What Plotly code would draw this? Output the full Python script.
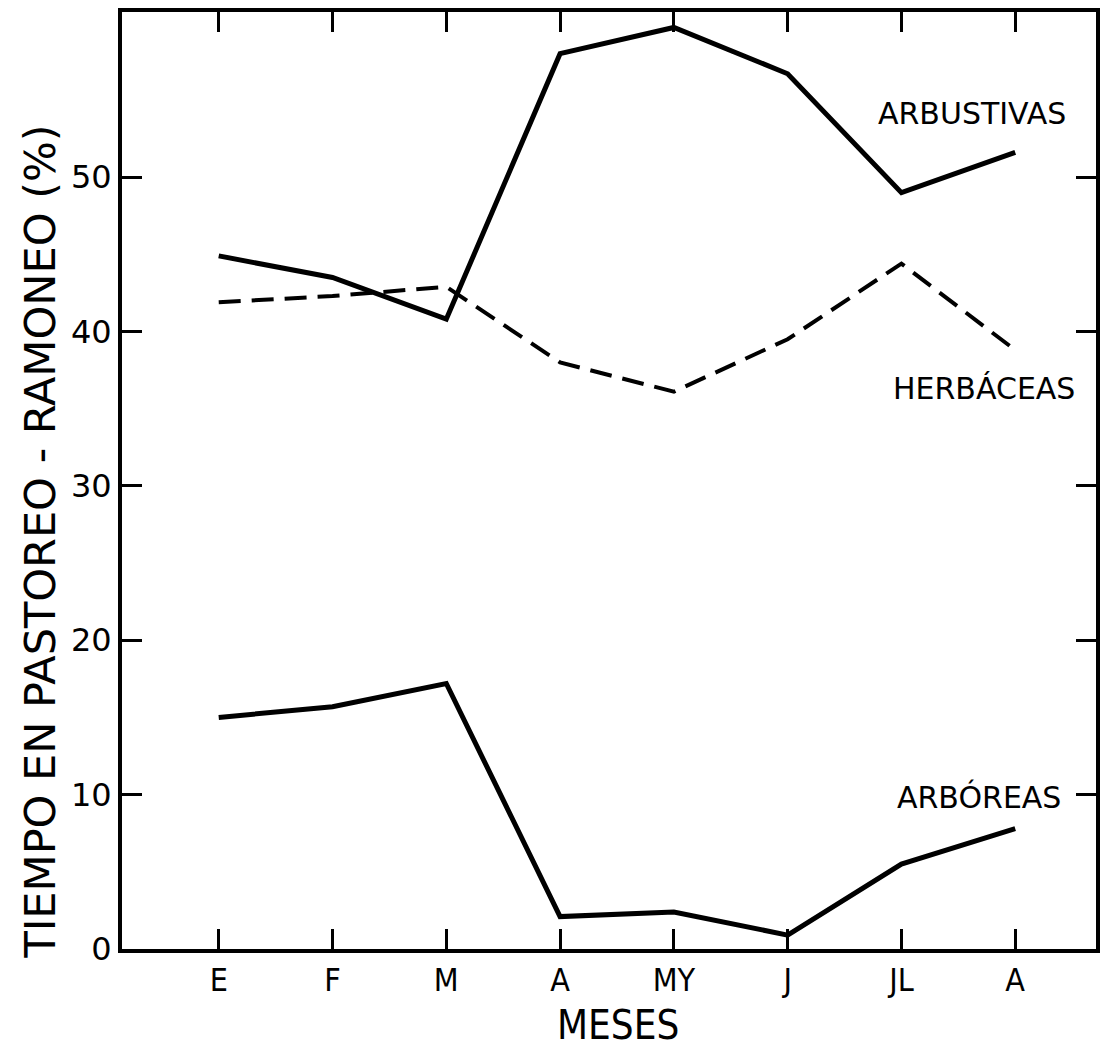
import plotly.graph_objects as go

months = ["E", "F", "M", "A", "MY", "J", "JL", "A"]
x_idx = list(range(len(months)))

arbustivas = [44.9, 43.5, 40.8, 58.0, 59.7, 56.7, 49.0, 51.6]
herbaceas = [41.9, 42.3, 42.9, 38.0, 36.1, 39.5, 44.4, 38.8]
arboreas = [15.0, 15.7, 17.2, 2.1, 2.4, 0.9, 5.5, 7.8]

y_ticks = [0, 10, 20, 30, 40, 50]

fig = go.Figure()
fig.add_trace(go.Scatter(x=x_idx, y=arbustivas, mode="lines",
                         line=dict(color="black", width=5), name="ARBUSTIVAS"))
fig.add_trace(go.Scatter(x=x_idx, y=herbaceas, mode="lines",
                         line=dict(color="black", width=4, dash="22px,11px"), name="HERBÁCEAS"))
fig.add_trace(go.Scatter(x=x_idx, y=arboreas, mode="lines",
                         line=dict(color="black", width=5), name="ARBÓREAS"))

label_font = dict(family="DejaVu Sans, Liberation Sans, sans-serif", size=30, color="black")
cond_font = "DejaVu Sans Condensed, Liberation Sans Narrow, DejaVu Sans, sans-serif"

annotations = [
    dict(text="ARBUSTIVAS", x=0.873, y=0.892, xref="paper", yref="paper",
         showarrow=False, font=label_font, xanchor="center", yanchor="middle"),
    dict(text="HERBÁCEAS", x=0.885, y=0.598, xref="paper", yref="paper",
         showarrow=False, font=label_font, xanchor="center", yanchor="middle"),
    dict(text="ARBÓREAS", x=0.880, y=0.162, xref="paper", yref="paper",
         showarrow=False, font=label_font, xanchor="center", yanchor="middle"),
    dict(text="TIEMPO EN PASTOREO - RAMONEO (%)", x=-0.084, y=0.435,
         xref="paper", yref="paper", showarrow=False, textangle=-90,
         font=dict(family="DejaVu Sans, sans-serif", size=43, color="black"),
         xanchor="center", yanchor="middle"),
    dict(text="MESES", x=0.509, y=-0.081, xref="paper", yref="paper",
         showarrow=False, font=dict(family=cond_font, size=40, color="black"),
         xanchor="center", yanchor="middle"),
]

fig.update_layout(
    width=1108, height=1054,
    margin=dict(l=122, r=11, t=8, b=105),
    paper_bgcolor="white", plot_bgcolor="white",
    showlegend=False,
    annotations=annotations,
)
fig.update_xaxes(
    range=[-0.85, 7.71], tickvals=x_idx, ticktext=months,
    showgrid=False, zeroline=False,
    showline=True, linecolor="black", linewidth=4, mirror="ticks",
    ticks="inside", ticklen=20, tickwidth=2.5, tickcolor="black",
    tickfont=dict(family=cond_font, size=32, color="black"),
)
fig.update_yaxes(
    range=[0, 60.7], tickvals=y_ticks, ticktext=[str(v) for v in y_ticks],
    showgrid=False, zeroline=False,
    showline=True, linecolor="black", linewidth=4, mirror="ticks",
    ticks="inside", ticklen=20, tickwidth=2.5, tickcolor="black",
    tickfont=dict(family="DejaVu Sans, sans-serif", size=32, color="black"),
)

fig.write_html("out.html")
